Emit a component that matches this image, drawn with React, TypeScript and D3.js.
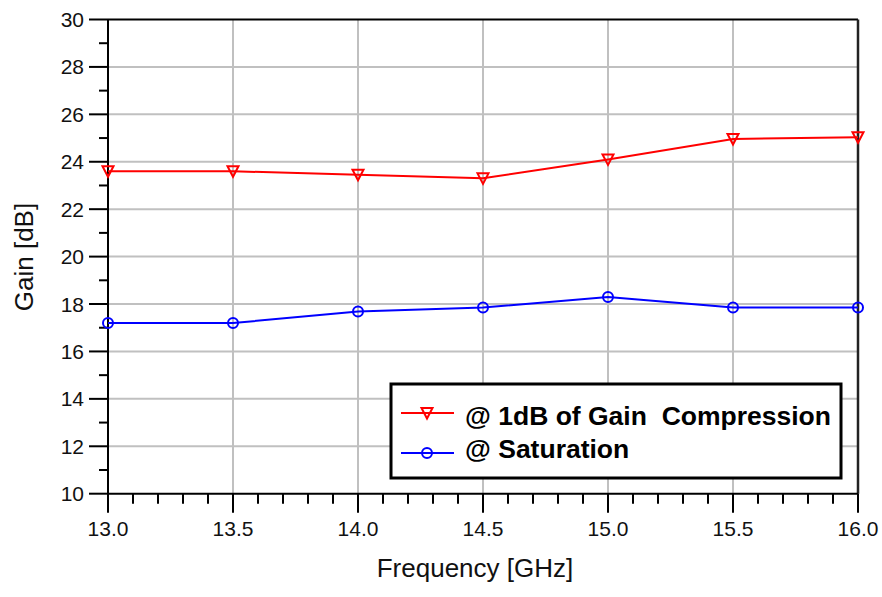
import React from "react";
import * as d3 from "d3";

const freqs = [13.0, 13.5, 14.0, 14.5, 15.0, 15.5, 16.0];
const gain1dB = [23.6, 23.6, 23.45, 23.3, 24.1, 24.96, 25.03];
const gainSat = [17.2, 17.2, 17.68, 17.85, 18.3, 17.85, 17.85];
const xTicks = [13.0, 13.5, 14.0, 14.5, 15.0, 15.5, 16.0];
const yTicks = [10, 12, 14, 16, 18, 20, 22, 24, 26, 28, 30];
const seriesNames = ["@ 1dB of Gain  Compression", "@ Saturation"];

const W = 882, H = 597;
const L = 108, R = 858, T = 19.5, B = 493.7;

export default function App() {
  const x = d3.scaleLinear().domain([13, 16]).range([L, R]);
  const y = d3.scaleLinear().domain([10, 30]).range([B, T]);
  const line = d3.line<number>().x((_, i) => x(freqs[i])).y((v) => y(v));
  const xMinor = d3.range(13, 16.0001, 0.1).map((v) => +v.toFixed(2));
  const yMinor = d3.range(11, 30, 2);
  const font = "Arial, 'Liberation Sans', sans-serif";
  const tri = (cx: number, cy: number) => `M${cx - 5.5},${cy - 5} L${cx + 5.5},${cy - 5} L${cx},${cy + 5.5} Z`;

  return (
    <svg width={W} height={H} style={{ position: "absolute", left: 0, top: 0, background: "#fff" }} fontFamily={font}>
      {/* grid */}
      {xTicks.slice(1, -1).map((t) => (
        <line key={"gx" + t} x1={x(t)} x2={x(t)} y1={T} y2={B} stroke="#c0c0c0" strokeWidth={2} />
      ))}
      {yTicks.slice(1, -1).map((t) => (
        <line key={"gy" + t} x1={L} x2={R} y1={y(t)} y2={y(t)} stroke="#c0c0c0" strokeWidth={2} />
      ))}
      {/* frame */}
      <line x1={L} x2={R} y1={T} y2={T} stroke="#000" strokeWidth={2} />
      <line x1={R} x2={R} y1={T} y2={B} stroke="#222" strokeWidth={2.5} />
      <line x1={L} x2={L} y1={T} y2={B} stroke="#000" strokeWidth={2} />
      <line x1={L} x2={R} y1={B} y2={B} stroke="#000" strokeWidth={2} />
      {/* y ticks */}
      {yTicks.map((t) => (
        <g key={"yt" + t}>
          <line x1={L - 19} x2={L} y1={y(t)} y2={y(t)} stroke="#000" strokeWidth={2} />
          <text x={L - 24} y={y(t) + 7.5} textAnchor="end" fontSize={21} fill="#111">{t}</text>
        </g>
      ))}
      {yMinor.map((t) => (
        <line key={"ym" + t} x1={L - 9} x2={L} y1={y(t)} y2={y(t)} stroke="#000" strokeWidth={2} />
      ))}
      {/* x ticks */}
      {xMinor.map((t) => (
        <line key={"xm" + t} x1={x(t)} x2={x(t)} y1={B} y2={B + 10} stroke="#000" strokeWidth={2} />
      ))}
      {xTicks.map((t) => (
        <g key={"xt" + t}>
          <line x1={x(t)} x2={x(t)} y1={B} y2={B + 19} stroke="#000" strokeWidth={2} />
          <text x={x(t)} y={536} textAnchor="middle" fontSize={21} fill="#111">{t.toFixed(1)}</text>
        </g>
      ))}
      {/* axis titles */}
      <text x={475} y={577} textAnchor="middle" fontSize={26} fill="#111">Frequency [GHz]</text>
      <text transform={`translate(33,257) rotate(-90)`} textAnchor="middle" fontSize={26} fill="#111">Gain [dB]</text>
      {/* series */}
      <path d={line(gain1dB) || ""} fill="none" stroke="#ff0000" strokeWidth={2} />
      {gain1dB.map((v, i) => (
        <path key={"r" + i} d={tri(x(freqs[i]), y(v))} fill="none" stroke="#ff0000" strokeWidth={2} />
      ))}
      <path d={line(gainSat) || ""} fill="none" stroke="#0000ff" strokeWidth={2} />
      {gainSat.map((v, i) => (
        <circle key={"b" + i} cx={x(freqs[i])} cy={y(v)} r={5} fill="none" stroke="#0000ff" strokeWidth={2} />
      ))}
      {/* legend */}
      <rect x={391} y={384} width={450} height={94} fill="#fff" stroke="#000" strokeWidth={3} />
      <line x1={401} x2={454} y1={413} y2={413} stroke="#ff0000" strokeWidth={2} />
      <path d={tri(427, 413)} fill="none" stroke="#ff0000" strokeWidth={2} />
      <text x={465} y={425} fontSize={26.5} fontWeight="bold" fill="#000" style={{ whiteSpace: "pre" }}>{seriesNames[0]}</text>
      <line x1={401} x2={454} y1={453} y2={453} stroke="#0000ff" strokeWidth={2} />
      <circle cx={427} cy={453} r={5} fill="none" stroke="#0000ff" strokeWidth={2} />
      <text x={465} y={458} fontSize={26.5} fontWeight="bold" fill="#000" style={{ whiteSpace: "pre" }}>{seriesNames[1]}</text>
    </svg>
  );
}
